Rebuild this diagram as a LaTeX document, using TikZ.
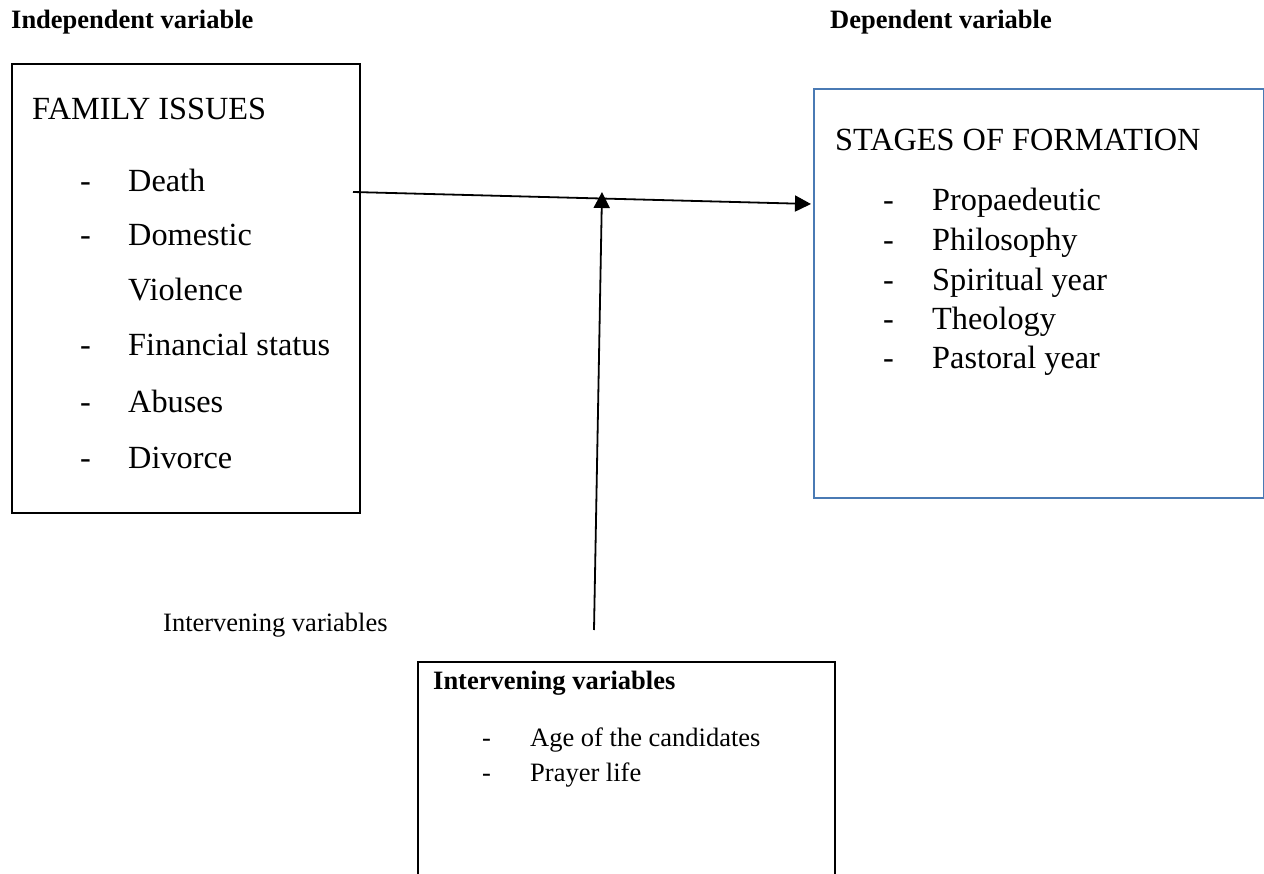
\documentclass[tikz,border=0pt]{standalone}
\usepackage{fontspec}
\setmainfont{Liberation Serif}
\usetikzlibrary{arrows.meta}
\definecolor{boxblue}{RGB}{74,122,180}
\begin{document}
\begin{tikzpicture}[x=1pt,y=-1pt,
  bigtxt/.style={anchor=base west,inner sep=0pt,font=\fontsize{32.3}{38}\selectfont},
  smalltxt/.style={anchor=base west,inner sep=0pt,font=\fontsize{26.5}{32}\selectfont},
  boldtxt/.style={anchor=base west,inner sep=0pt,font=\fontsize{26.5}{32}\selectfont\bfseries},
  framebox/.style={draw,line width=1.6pt,anchor=north west,inner sep=0pt},
  conn/.style={line width=1.8pt,-{Triangle[length=16pt,width=16pt]}}]
\useasboundingbox (0,0) rectangle (1264,874);
\clip (0,0) rectangle (1264,874);
\fill[white] (0,0) rectangle (1264,874);

% headings
\node[boldtxt] (indep) at (11,29) {Independent variable};
\node[boldtxt] (dep) at (830,29) {Dependent variable};

% left box
\node[framebox,minimum width=348pt,minimum height=449pt] (lbox) at (11,63) {};
\node[bigtxt] (fam) at (32,120) {FAMILY ISSUES};
\foreach \t/\y/\d in {Death/192/1,Domestic/246/1,Violence/301/0,Financial status/356/1,Abuses/413/1,Divorce/468/1}{
  \ifnum\d=1 \node[bigtxt] at (80,\y) {-};\fi
  \node[bigtxt] at (128,\y) {\t};
}

% right box
\node[framebox,draw=boxblue,line width=2.2pt,minimum width=450pt,minimum height=409pt] (rbox) at (813,88) {};
\node[bigtxt] (stages) at (835,151) {STAGES OF FORMATION};
\foreach \t/\y in {Propaedeutic/211,Philosophy/251,Spiritual year/291,Theology/330,Pastoral year/369}{
  \node[bigtxt] at (883,\y) {-};
  \node[bigtxt] at (932,\y) {\t};
}

% intervening label
\node[smalltxt] (ivlabel) at (163,631) {Intervening variables};

% bottom box (continues past the lower edge)
\coordinate (bbl) at (418,662);
\coordinate (bbr) at (835,662);
\draw[line width=2pt] (418,890) -- (bbl) -- (bbr) -- (835,890);
\node[boldtxt] (ivtitle) at (433,689) {Intervening variables};
\node[smalltxt] at (482,746) {-};
\node[smalltxt] (age) at (530,746) {Age of the candidates};
\node[smalltxt] at (482,781) {-};
\node[smalltxt] (prayer) at (530,781) {Prayer life};

% connectors
\coordinate (hstart) at (353,192);
\coordinate (hend) at (811,204);
\draw[conn] (hstart) -- (hend);
\coordinate (vstart) at (594,630);
\coordinate (vend) at (602,192);
\draw[conn] (vstart) -- (vend);
\end{tikzpicture}
\end{document}
